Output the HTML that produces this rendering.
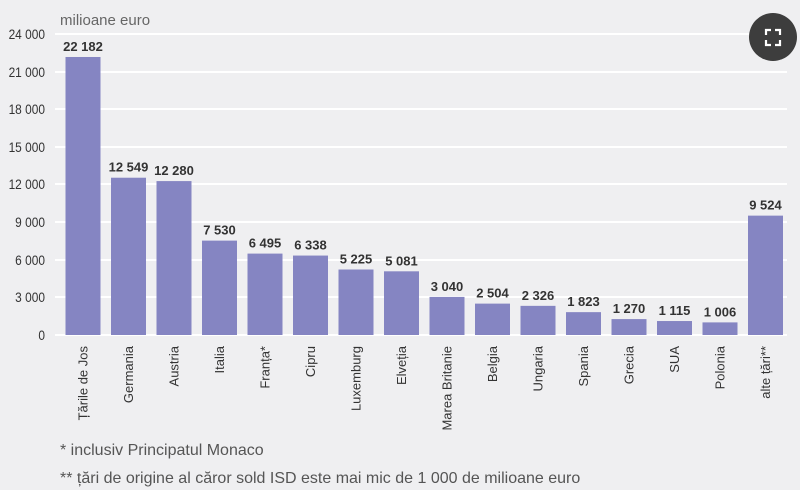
<!DOCTYPE html>
<html><head><meta charset="utf-8"><style>
body{margin:0;background:#efeff1;}
svg{display:block;font-family:"Liberation Sans",sans-serif;}
</style></head><body>
<svg width="800" height="490" viewBox="0 0 800 490">
<rect width="800" height="490" fill="#efeff1"/>
<g stroke="#ffffff" stroke-width="2">
<line x1="55" y1="34" x2="787" y2="34"/>
<line x1="55" y1="72" x2="787" y2="72"/>
<line x1="55" y1="109" x2="787" y2="109"/>
<line x1="55" y1="147" x2="787" y2="147"/>
<line x1="55" y1="184" x2="787" y2="184"/>
<line x1="55" y1="222" x2="787" y2="222"/>
<line x1="55" y1="260" x2="787" y2="260"/>
<line x1="55" y1="297" x2="787" y2="297"/>
<line x1="55" y1="335" x2="787" y2="335"/>
</g>
<g font-size="14" fill="#333" text-anchor="end" transform="scale(0.85,1)">
<text x="52.9" y="39">24 000</text>
<text x="52.9" y="77">21 000</text>
<text x="52.9" y="114">18 000</text>
<text x="52.9" y="152">15 000</text>
<text x="52.9" y="189">12 000</text>
<text x="52.9" y="227">9 000</text>
<text x="52.9" y="265">6 000</text>
<text x="52.9" y="302">3 000</text>
<text x="52.9" y="340">0</text>
</g>
<text x="60" y="25" font-size="15" fill="#666">milioane euro</text>
<g fill="#8585c2" id="bars"></g>
<g id="vals" font-size="13" font-weight="bold" fill="#333" text-anchor="middle"></g>
<g id="labs" font-size="13" fill="#333" text-anchor="end"></g>
<text x="60" y="455" font-size="16" fill="#555">* inclusiv Principatul Monaco</text>
<text x="60" y="483" font-size="16" fill="#555">** țări de origine al căror sold ISD este mai mic de 1 000 de milioane euro</text>
<circle cx="773" cy="37" r="24" fill="#3d3d3d"/>
<g stroke="#fff" stroke-width="2.2" fill="none">
<path d="M766 35v-5h5M775 30h5v5M780 40v5h-5M771 45h-5v-5"/>
</g>
</svg>
<script>
var d=[["Țările de Jos",22182,"22 182"],["Germania",12549,"12 549"],["Austria",12280,"12 280"],["Italia",7530,"7 530"],["Franța*",6495,"6 495"],["Cipru",6338,"6 338"],["Luxemburg",5225,"5 225"],["Elveția",5081,"5 081"],["Marea Britanie",3040,"3 040"],["Belgia",2504,"2 504"],["Ungaria",2326,"2 326"],["Spania",1823,"1 823"],["Grecia",1270,"1 270"],["SUA",1115,"1 115"],["Polonia",1006,"1 006"],["alte țări**",9524,"9 524"]];
var ns="http://www.w3.org/2000/svg";
var b=document.getElementById("bars"),v=document.getElementById("vals"),l=document.getElementById("labs");
d.forEach(function(e,i){
var cx=83+i*45.5,h=e[1]/3000*37.6,y=335-h;
var r=document.createElementNS(ns,"rect");r.setAttribute("x",cx-17.5);r.setAttribute("y",y);r.setAttribute("width",35);r.setAttribute("height",h);b.appendChild(r);
var t=document.createElementNS(ns,"text");t.setAttribute("x",cx);t.setAttribute("y",y-6);t.textContent=e[2];v.appendChild(t);
var s=document.createElementNS(ns,"text");s.setAttribute("transform","translate("+(cx+4.5)+",346) rotate(-90)");s.textContent=e[0];l.appendChild(s);
});
</script>
</body></html>
